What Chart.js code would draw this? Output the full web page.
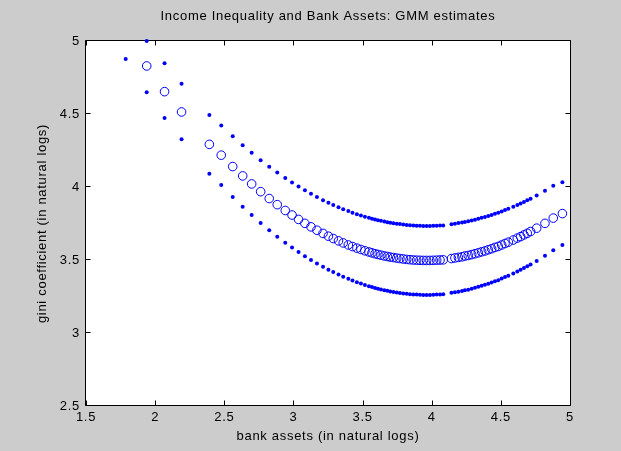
<!DOCTYPE html>
<html><head><meta charset="utf-8">
<script src="https://cdn.jsdelivr.net/npm/chart.js@4"></script>
<style>html,body{margin:0;padding:0;background:#cccccc;}#wrap{width:621px;height:451px;position:relative;overflow:hidden}</style>
</head><body><div id="wrap"><canvas id="c" width="621" height="451"></canvas></div>
<script>
const chartTitle = 'Income Inequality and Bank Assets: GMM estimates';
const xAxisTitle = 'bank assets (in natural logs)';
const yAxisTitle = 'gini coefficient (in natural logs)';
const xTickLabels = ['1.5','2','2.5','3','3.5','4','4.5','5'];
const yTickLabels = ['2.5','3','3.5','4','4.5','5'];

const bankAssets = [1.787, 1.939, 2.068, 2.191, 2.392, 2.478, 2.561, 2.633, 2.698, 2.763, 2.825, 2.883, 2.941, 2.990, 3.037, 3.083, 3.127, 3.170, 3.214, 3.253, 3.288, 3.326, 3.360, 3.397, 3.427, 3.459, 3.488, 3.517, 3.546, 3.568, 3.590, 3.611, 3.633, 3.657, 3.679, 3.700, 3.723, 3.747, 3.770, 3.794, 3.819, 3.843, 3.867, 3.891, 3.915, 3.939, 3.963, 3.987, 4.011, 4.036, 4.060, 4.083, 4.143, 4.168, 4.193, 4.219, 4.240, 4.264, 4.289, 4.313, 4.337, 4.361, 4.385, 4.409, 4.433, 4.457, 4.481, 4.506, 4.530, 4.554, 4.590, 4.619, 4.643, 4.667, 4.691, 4.715, 4.759, 4.819, 4.879, 4.945];

const giniFitted = [null, 4.829, 4.653, 4.514, 4.292, 4.218, 4.140, 4.076, 4.021, 3.968, 3.921, 3.879, 3.839, 3.808, 3.778, 3.751, 3.727, 3.704, 3.682, 3.663, 3.647, 3.631, 3.617, 3.603, 3.592, 3.581, 3.572, 3.563, 3.555, 3.549, 3.543, 3.538, 3.533, 3.528, 3.524, 3.520, 3.517, 3.513, 3.510, 3.507, 3.504, 3.502, 3.500, 3.499, 3.498, 3.497, 3.497, 3.497, 3.498, 3.499, 3.500, 3.501, 3.510, 3.514, 3.518, 3.522, 3.527, 3.531, 3.537, 3.543, 3.549, 3.556, 3.562, 3.570, 3.577, 3.586, 3.593, 3.603, 3.613, 3.622, 3.637, 3.650, 3.660, 3.672, 3.683, 3.695, 3.718, 3.751, 3.787, 3.818];

const giniUpper = [null, 5.000, 4.847, 4.708, 4.493, 4.421, 4.347, 4.286, 4.234, 4.184, 4.139, 4.099, 4.061, 4.030, 4.003, 3.977, 3.953, 3.931, 3.910, 3.892, 3.877, 3.862, 3.848, 3.835, 3.824, 3.814, 3.805, 3.797, 3.789, 3.783, 3.778, 3.773, 3.768, 3.763, 3.759, 3.755, 3.752, 3.749, 3.746, 3.743, 3.740, 3.738, 3.736, 3.735, 3.734, 3.733, 3.733, 3.733, 3.734, 3.734, 3.736, 3.737, 3.745, 3.749, 3.753, 3.756, 3.761, 3.765, 3.771, 3.776, 3.782, 3.789, 3.794, 3.802, 3.809, 3.817, 3.824, 3.833, 3.842, 3.851, 3.865, 3.877, 3.887, 3.898, 3.909, 3.920, 3.942, 3.974, 4.008, 4.032];

const giniLower = [4.876, 4.649, 4.473, 4.327, 4.091, 4.014, 3.932, 3.865, 3.808, 3.753, 3.704, 3.660, 3.618, 3.585, 3.554, 3.526, 3.500, 3.476, 3.453, 3.434, 3.417, 3.400, 3.386, 3.371, 3.360, 3.348, 3.339, 3.329, 3.321, 3.315, 3.309, 3.303, 3.298, 3.293, 3.289, 3.285, 3.281, 3.277, 3.274, 3.271, 3.268, 3.266, 3.264, 3.263, 3.262, 3.261, 3.261, 3.261, 3.262, 3.263, 3.264, 3.266, 3.275, 3.279, 3.283, 3.288, 3.293, 3.297, 3.303, 3.310, 3.316, 3.323, 3.330, 3.338, 3.346, 3.355, 3.362, 3.373, 3.383, 3.392, 3.408, 3.422, 3.433, 3.445, 3.457, 3.470, 3.494, 3.529, 3.566, 3.603];

const FONT = '"Liberation Sans", Arial, Helvetica, sans-serif';
const BLUE = '#0000ff';

function pts(ys){ return bankAssets.map((x,i)=>({x:x, y:ys[i]})); }

const framePlugin = {
  id:'frame',
  beforeDraw(chart){
    const ctx = chart.ctx, a = chart.chartArea;
    ctx.save();
    ctx.fillStyle = '#ffffff';
    ctx.fillRect(a.left, a.top, a.right-a.left, a.bottom-a.top);
    ctx.restore();
    ctx.letterSpacing = '0.7px';
  },
  beforeDatasetsDraw(chart){
    const ctx = chart.ctx, a = chart.chartArea;
    const xs = chart.scales.x, ys = chart.scales.y;
    ctx.save();
    ctx.strokeStyle = '#000000';
    ctx.lineWidth = 1;
    ctx.beginPath();
    ctx.rect(a.left-0.5, a.top-0.5, a.right-a.left+1, a.bottom-a.top);
    ctx.stroke();
    ctx.beginPath();
    xTickLabels.forEach(s=>{
      const p = Math.round(xs.getPixelForValue(parseFloat(s)))+0.5;
      ctx.moveTo(p, a.bottom-0.5); ctx.lineTo(p, a.bottom-5.5);
      ctx.moveTo(p, a.top-0.5); ctx.lineTo(p, a.top+4.5);
    });
    yTickLabels.forEach(s=>{
      const p = Math.round(ys.getPixelForValue(parseFloat(s)))-0.5;
      ctx.moveTo(a.left-0.5, p); ctx.lineTo(a.left+4.5, p);
      ctx.moveTo(a.right+0.5, p); ctx.lineTo(a.right-4.5, p);
    });
    ctx.stroke();
    ctx.restore();
  },
  afterDraw(chart){
    const ctx = chart.ctx, a = chart.chartArea;
    ctx.save();
    ctx.font = '13px ' + FONT;
    ctx.fillStyle = '#000000';
    ctx.textAlign = 'center';
    ctx.textBaseline = 'alphabetic';
    ctx.fillText(chartTitle, (a.left+a.right)/2, 20);
    ctx.restore();
  }
};

new Chart(document.getElementById('c'), {
  type:'scatter',
  data:{
    datasets:[
      {label:'fitted', data:pts(giniFitted), pointStyle:'circle', pointRadius:4.3, pointBorderWidth:1,
       borderColor:BLUE, backgroundColor:'rgba(0,0,0,0)', showLine:false, clip:false},
      {label:'upper', data:pts(giniUpper), pointStyle:'circle', pointRadius:2, pointBorderWidth:0,
       borderColor:BLUE, backgroundColor:BLUE, showLine:false, clip:false},
      {label:'lower', data:pts(giniLower), pointStyle:'circle', pointRadius:2, pointBorderWidth:0,
       borderColor:BLUE, backgroundColor:BLUE, showLine:false, clip:false}
    ]
  },
  options:{
    responsive:false, animation:false, devicePixelRatio:1,
    layout:{padding:{top:41, right:51, bottom:0, left:0}},
    plugins:{legend:{display:false}, tooltip:{enabled:false}, title:{display:false}},
    scales:{
      x:{type:'linear', min:1.5, max:5,
        afterBuildTicks(scale){ scale.ticks = xTickLabels.map(s=>({value:parseFloat(s)})); },
        afterFit(scale){ scale.height = 45; },
        grid:{display:false, drawTicks:false}, border:{display:false},
        ticks:{padding:4, color:'#000', font:{family:FONT, size:13, lineHeight:1.2}, maxRotation:0, autoSkip:false,
          callback(v, i){ return xTickLabels[i]; }},
        title:{display:true, text:xAxisTitle, color:'#000', font:{family:FONT, size:13, lineHeight:1.2}, padding:{top:0, bottom:6.7}}
      },
      y:{type:'linear', min:2.5, max:5,
        afterBuildTicks(scale){ scale.ticks = yTickLabels.map(s=>({value:parseFloat(s)})); },
        afterFit(scale){ scale.width = 86; },
        grid:{display:false, drawTicks:false}, border:{display:false},
        ticks:{padding:6, color:'#000', font:{family:FONT, size:13, lineHeight:1.2}, autoSkip:false,
          callback(v, i){ return yTickLabels[i]; }},
        title:{display:true, text:yAxisTitle, color:'#000', font:{family:FONT, size:13, lineHeight:1.2}, padding:{top:34.7, bottom:0}}
      }
    }
  },
  plugins:[framePlugin]
});
</script></body></html>
